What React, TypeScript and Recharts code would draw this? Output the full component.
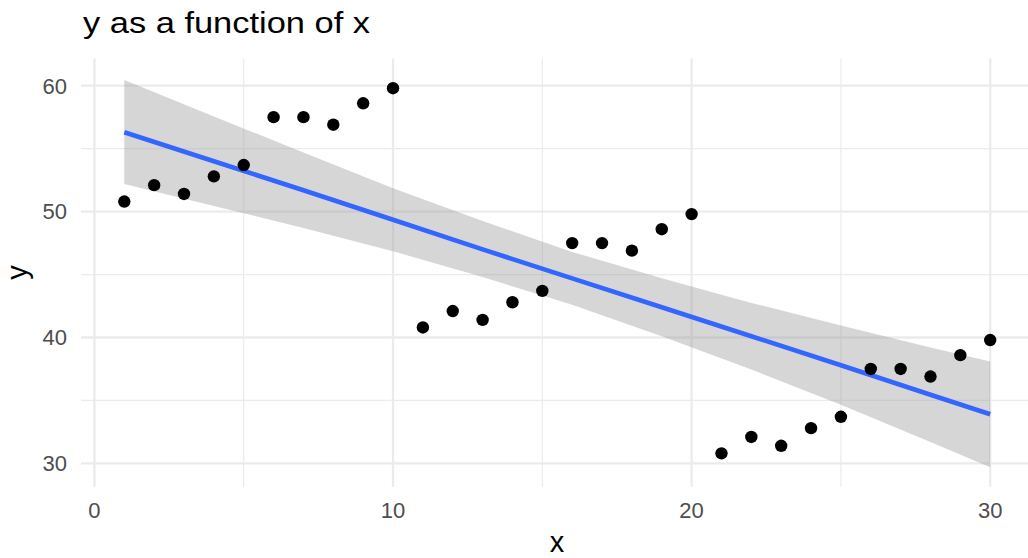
import React from "react";
import {
  ComposedChart,
  Area,
  Line,
  Scatter,
  XAxis,
  YAxis,
  CartesianGrid,
} from "recharts";

// observed points
const xVals = [
  1, 2, 3, 4, 5, 6, 7, 8, 9, 10, 11, 12, 13, 14, 15, 16, 17, 18, 19, 20, 21,
  22, 23, 24, 25, 26, 27, 28, 29, 30,
];
const yVals = [
  50.8, 52.1, 51.4, 52.8, 53.7, 57.5, 57.5, 56.9, 58.6, 59.8, 40.8, 42.1, 41.4,
  42.8, 43.7, 47.5, 47.5, 46.9, 48.6, 49.8, 30.8, 32.1, 31.4, 32.8, 33.7, 37.5,
  37.5, 36.9, 38.6, 39.8,
];

// lm fit + confidence band
const fitX = [1, 4, 7, 10, 13, 16, 19, 22, 25, 28, 30];
const fitY = [56.3, 54.0, 51.7, 49.35, 47.0, 44.7, 42.4, 40.1, 37.8, 35.45, 33.9];
const bandLow = [52.2, 50.45, 48.7, 46.85, 44.8, 42.6, 40.1, 37.45, 34.65, 31.7, 29.7];
const bandHigh = [60.45, 57.55, 54.7, 51.85, 49.25, 46.8, 44.7, 42.75, 40.95, 39.2, 38.1];

const majorX = [0, 10, 20, 30];
const minorX = [5, 15, 25];
const majorY = [30, 40, 50, 60];
const minorY = [35, 45, 55];

const points = xVals.map((x, i) => ({ x, y: yVals[i] }));
const fitData = fitX.map((x, i) => ({
  x,
  fit: fitY[i],
  band: [bandLow[i], bandHigh[i]],
}));

const FONT = "'Liberation Sans', Arial, sans-serif";
const tickStyle = { fill: "#4D4D4D", fontSize: 22, fontFamily: FONT };

const Dot = (props: any) => (
  <circle cx={props.cx} cy={props.cy} r={6.2} fill="#000000" />
);

export default function App() {
  return (
    <div
      style={{
        position: "absolute",
        left: 0,
        top: 0,
        width: 1028,
        height: 558,
        overflow: "hidden",
        background: "#fff",
        fontFamily: FONT,
      }}
    >
      <ComposedChart
        width={1040}
        height={558}
        data={fitData}
        margin={{ top: 58.5, right: 6.5, bottom: 0, left: 0 }}
      >
        <CartesianGrid
          stroke="#EBEBEB"
          strokeWidth={1.2}
          verticalValues={minorX}
          horizontalValues={minorY}
        />
        <CartesianGrid
          stroke="#EBEBEB"
          strokeWidth={2.3}
          verticalValues={majorX}
          horizontalValues={majorY}
        />
        <XAxis
          type="number"
          dataKey="x"
          domain={[-0.45, 31.45]}
          ticks={majorX}
          allowDataOverflow
          axisLine={false}
          tickLine={false}
          tickSize={0}
          tickMargin={15.5}
          height={71.3}
          tick={tickStyle}
          interval={0}
        />
        <YAxis
          type="number"
          domain={[28.15, 62.16]}
          ticks={majorY}
          allowDataOverflow
          axisLine={false}
          tickLine={false}
          tickSize={0}
          tickMargin={14}
          width={81}
          tick={tickStyle}
          interval={0}
        />
        <Area
          dataKey="band"
          stroke="none"
          fill="#999999"
          fillOpacity={0.4}
          isAnimationActive={false}
        />
        <Line
          dataKey="fit"
          stroke="#3366FF"
          strokeWidth={4.6}
          dot={false}
          isAnimationActive={false}
        />
        <Scatter
          data={points}
          dataKey="y"
          shape={Dot}
          isAnimationActive={false}
        />
      </ComposedChart>
      <svg
        width={1028}
        height={558}
        style={{ position: "absolute", left: 0, top: 0, pointerEvents: "none" }}
      >
        <text
          x={83}
          y={32.7}
          fontSize={30}
          fill="#000"
          fontFamily={FONT}
          textLength={287}
          lengthAdjust="spacingAndGlyphs"
        >
          y as a function of x
        </text>
        <text
          x={557}
          y={551.5}
          fontSize={29}
          fill="#000"
          textAnchor="middle"
          fontFamily={FONT}
        >
          x
        </text>
        <text
          x={27}
          y={272.5}
          fontSize={29}
          fill="#000"
          textAnchor="middle"
          fontFamily={FONT}
          transform="rotate(-90 27 272.5)"
        >
          y
        </text>
      </svg>
    </div>
  );
}
